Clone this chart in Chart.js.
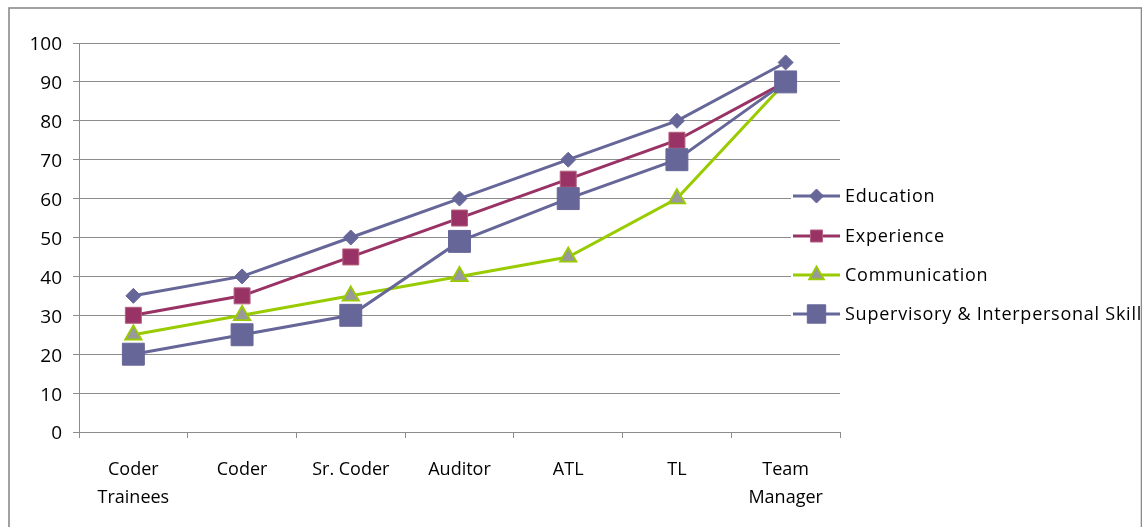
<!DOCTYPE html>
<html>
<head>
<meta charset="utf-8">
<script src="https://cdn.jsdelivr.net/npm/chart.js@4/dist/chart.umd.min.js"></script>
<style>
  html, body { margin: 0; padding: 0; background: #ffffff; }
  #wrap { position: relative; width: 1142px; height: 527px; }
</style>
</head>
<body>
<div id="wrap"><canvas id="c" width="1142" height="527"></canvas></div>
<script>
// Career levels along the x axis
const categories = [
  ['Coder', 'Trainees'], 'Coder', 'Sr. Coder', 'Auditor', 'ATL', 'TL', ['Team', 'Manager']
];

// Requirement levels per competency
const education     = [35, 40, 50, 60, 70, 80, 95];
const experience    = [30, 35, 45, 55, 65, 75, 90];
const communication = [25, 30, 35, 40, 45, 60, 90];
const supervisory   = [20, 25, 30, 49, 60, 70, 90];

const seriesNames = ['Education', 'Experience', 'Communication', 'Supervisory & Interpersonal Skill'];
const yTicks = [0, 10, 20, 30, 40, 50, 60, 70, 80, 90, 100];

const GRID = '#8c8c8c';

// Outer frame around the whole chart
const framePlugin = {
  id: 'frame',
  afterDraw(chart) {
    const ctx = chart.ctx;
    ctx.save();
    ctx.strokeStyle = '#8a8a8a';
    ctx.lineWidth = 1.6;
    ctx.strokeRect(9, 8, 1132.5, 560);
    ctx.restore();
  }
};

// Legend that draws each series' line running through its marker
const legendPlugin = {
  id: 'lineLegend',
  afterDraw(chart) {
    const ctx = chart.ctx;
    const x0 = 791, lineStart = 793, lineEnd = 840, markerX = 816.5, textX = 845;
    const rows = [196, 236, 275, 314];
    ctx.save();
    ctx.fillStyle = '#ffffff';
    ctx.fillRect(x0, 176, 1140 - x0, 158);
    chart.data.datasets.forEach((ds, i) => {
      const y = rows[i];
      ctx.strokeStyle = ds.borderColor;
      ctx.lineWidth = ds.borderWidth;
      ctx.beginPath();
      ctx.moveTo(lineStart, y);
      ctx.lineTo(lineEnd, y);
      ctx.stroke();
      ctx.fillStyle = ds.pointBackgroundColor;
      ctx.strokeStyle = ds.pointBorderColor;
      ctx.lineWidth = ds.pointBorderWidth;
      const opts = { pointStyle: ds.pointStyle, radius: ds.legendRadius, rotation: 0, borderWidth: ds.pointBorderWidth };
      Chart.helpers.drawPoint(ctx, opts, markerX, y);
      ctx.fillStyle = '#000000';
      ctx.font = '18px "Open Sans"';
      ctx.letterSpacing = '0.75px';
      ctx.textBaseline = 'middle';
      ctx.textAlign = 'left';
      ctx.fillText(ds.label, textX, y + 1);
    });
    ctx.restore();
  }
};

new Chart(document.getElementById('c'), {
  type: 'line',
  data: {
    labels: categories,
    datasets: [
      {
        label: seriesNames[0], data: education, order: 4,
        borderColor: '#666699', borderWidth: 3,
        pointStyle: 'rectRot', pointRadius: 7.5, legendRadius: 7,
        pointBackgroundColor: '#666699', pointBorderColor: '#666699', pointBorderWidth: 1
      },
      {
        label: seriesNames[1], data: experience, order: 3,
        borderColor: '#993366', borderWidth: 3,
        pointStyle: 'rect', pointRadius: 11.3, legendRadius: 8.5,
        pointBackgroundColor: '#993366', pointBorderColor: '#b5607f', pointBorderWidth: 1
      },
      {
        label: seriesNames[2], data: communication, order: 2,
        borderColor: '#99cc00', borderWidth: 3,
        pointStyle: 'triangle', pointRadius: 9.5, legendRadius: 8.5,
        pointBackgroundColor: '#999999', pointBorderColor: '#99cc00', pointBorderWidth: 1.8
      },
      {
        label: seriesNames[3], data: supervisory, order: 1,
        borderColor: '#666699', borderWidth: 3,
        pointStyle: 'rect', pointRadius: 15.5, legendRadius: 13,
        pointBackgroundColor: '#666699', pointBorderColor: '#666699', pointBorderWidth: 1
      }
    ]
  },
  options: {
    responsive: false,
    animation: false,
    devicePixelRatio: 1,
    layout: { padding: { left: 0, top: 43, right: 302, bottom: 0 } },
    plugins: {
      legend: { display: false },
      tooltip: { enabled: false },
      title: { display: false }
    },
    elements: { line: { tension: 0 } },
    scales: {
      x: {
        type: 'category',
        offset: true,
        grid: {
          offset: true,
          drawOnChartArea: false,
          drawTicks: true,
          tickLength: 6,
          color: GRID,
          lineWidth: 1
        },
        border: { display: true, color: GRID, width: 1 },
        ticks: {
          color: '#000000',
          font: { family: '"Open Sans", sans-serif', size: 18, lineHeight: 1.55 },
          padding: 18,
          maxRotation: 0,
          autoSkip: false
        },
        afterFit(scale) { scale.height = 95; }
      },
      y: {
        min: yTicks[0],
        max: yTicks[yTicks.length - 1],
        afterBuildTicks(scale) { scale.ticks = yTicks.map(v => ({ value: v })); },
        grid: {
          color: GRID,
          lineWidth: 1,
          drawTicks: true,
          tickLength: 6
        },
        border: { display: true, color: GRID, width: 1 },
        ticks: {
          color: '#000000',
          font: { family: '"Open Sans", sans-serif', size: 19 },
          padding: 11,
          labelOffset: 2
        },
        afterFit(scale) { scale.width = 79; }
      }
    }
  },
  plugins: [legendPlugin, framePlugin]
});
</script>
</body>
</html>
